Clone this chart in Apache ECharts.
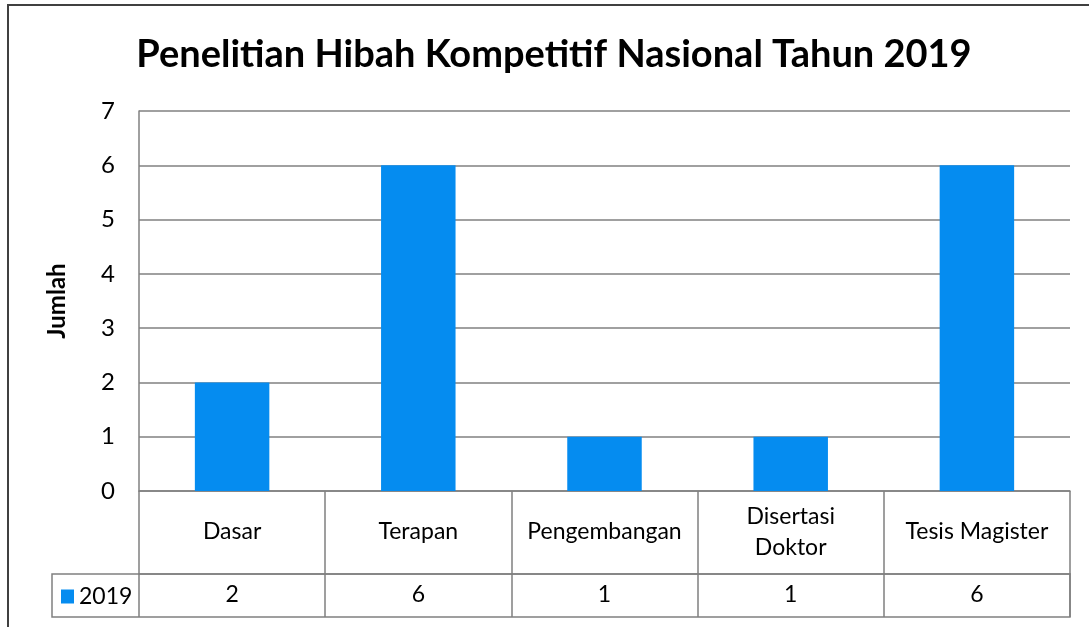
<!DOCTYPE html>
<html>
<head>
<meta charset="utf-8">
<script src="https://cdn.jsdelivr.net/npm/echarts@6/dist/echarts.min.js"></script>
<style>
  html, body { margin: 0; padding: 0; background: #fff; }
  #chart { width: 1089px; height: 627px; }
</style>
</head>
<body>
<div id="chart"></div>
<script>
// data
const categories = ['Dasar', 'Terapan', 'Pengembangan', 'Disertasi\nDoktor', 'Tesis Magister']
const values2019 = [2, 6, 1, 1, 6]
const seriesName = '2019'
const yTicks = [0, 1, 2, 3, 4, 5, 6, 7]

const FONT = 'Lato, "Open Sans", sans-serif'
const GRID_COLOR = '#808080'
const BAR_COLOR = '#058cf0'

const chart = echarts.init(document.getElementById('chart'))

chart.setOption({
  animation: false,
  title: {
    text: 'Penelitian Hibah Kompetitif Nasional Tahun 2019',
    left: 549,
    top: 31,
    textAlign: 'center',
    textStyle: { fontFamily: FONT, fontWeight: 'bold', fontSize: 38, color: '#000' },
  },
  legend: {
    left: 61,
    top: 585,
    padding: 0,
    icon: 'rect',
    itemWidth: 13,
    itemHeight: 14,
    itemGap: 4,
    data: [seriesName],
    textStyle: { fontFamily: FONT, fontSize: 23, color: '#000', padding: [0, 0, 0, 0] },
  },
  grid: { left: 139, right: 19, top: 111, bottom: 136 },
  xAxis: [
    {
      type: 'category',
      data: categories,
      axisLine: { lineStyle: { color: GRID_COLOR, width: 1.5 } },
      axisTick: { show: true, length: 126, lineStyle: { color: GRID_COLOR, width: 1.5 } },
      axisLabel: {
        margin: 41,
        verticalAlign: 'middle',
        fontFamily: FONT,
        fontSize: 23,
        lineHeight: 31,
        color: '#000',
        interval: 0,
      },
    },
    {
      type: 'category',
      data: values2019.map(String),
      position: 'bottom',
      offset: 83,
      axisLine: { lineStyle: { color: GRID_COLOR, width: 1.5 } },
      axisTick: { show: false },
      axisLabel: {
        margin: 21,
        verticalAlign: 'middle',
        fontFamily: FONT,
        fontSize: 23,
        color: '#000',
        interval: 0,
      },
    },
  ],
  yAxis: {
    type: 'value',
    min: yTicks[0],
    max: yTicks[yTicks.length - 1],
    interval: 1,
    name: 'Jumlah',
    nameLocation: 'middle',
    nameGap: 70,
    nameTextStyle: { fontFamily: FONT, fontWeight: 'bold', fontSize: 24, color: '#000' },
    axisLine: { show: true, lineStyle: { color: GRID_COLOR, width: 1.5 } },
    axisTick: { show: false },
    axisLabel: { margin: 24, fontFamily: FONT, fontSize: 24, color: '#000' },
    splitLine: { lineStyle: { color: GRID_COLOR, width: 1.5 } },
  },
  series: [{
    name: seriesName,
    type: 'bar',
    data: values2019,
    barWidth: '40%',
    itemStyle: { color: BAR_COLOR },
  }],
  graphic: [
    // outer chart border
    { type: 'rect', shape: { x: 8, y: 5, width: 1095, height: 640 },
      style: { fill: 'none', stroke: '#404040', lineWidth: 2 }, silent: true },
    // data table value row incl. legend cell
    { type: 'rect', shape: { x: 52, y: 574, width: 1018, height: 43 },
      style: { fill: 'none', stroke: GRID_COLOR, lineWidth: 1.5 }, silent: true },
  ],
})
</script>
</body>
</html>
